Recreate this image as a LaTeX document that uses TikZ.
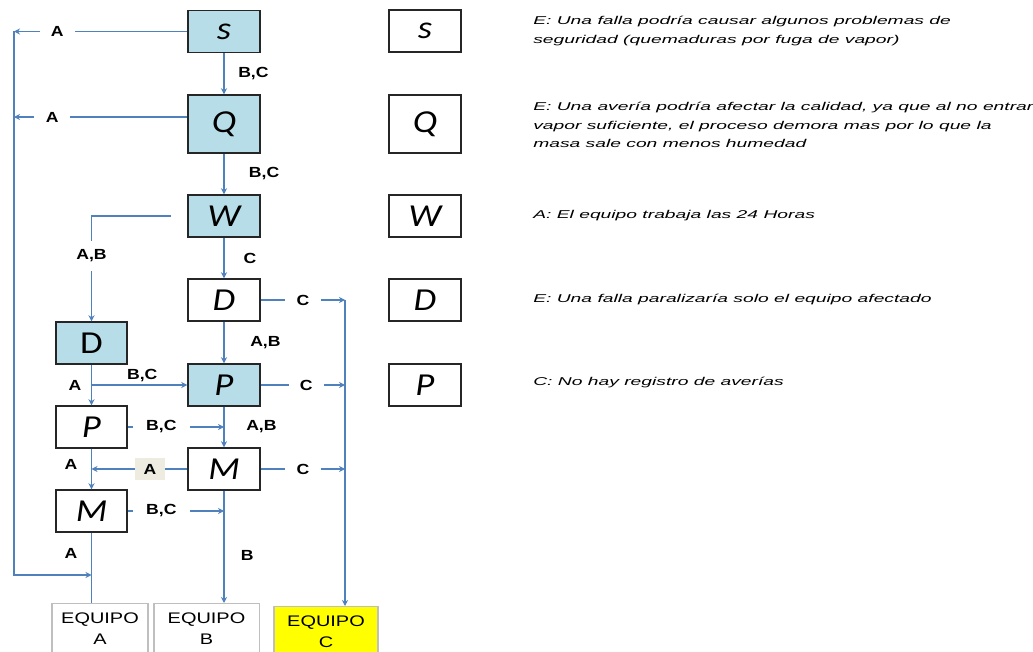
\documentclass[tikz,border=0pt]{standalone}
\usepackage{fontspec}
\usepackage{xcolor}
\usetikzlibrary{arrows.meta,positioning,calc}
\setmainfont{Liberation Sans}
\newfontfamily\boxfont[FakeStretch=1.15]{Carlito}
\newfontfamily\tagfont[FakeStretch=1.2]{Liberation Sans}
\newfontfamily\notefont[FakeStretch=1.7]{Liberation Sans}
\newfontfamily\equipofont[FakeStretch=1.3]{Liberation Sans}
\definecolor{critblue}{RGB}{183,221,232}
\definecolor{linkblue}{RGB}{79,129,189}
\definecolor{framegray}{RGB}{191,191,191}
\definecolor{tagbeige}{RGB}{238,236,225}
\definecolor{classyellow}{RGB}{255,255,0}

\begin{document}
\begin{tikzpicture}[x=0.75pt, y=-0.75pt,
    crit/.style={draw=black!85, line width=1.1pt, minimum width=54pt, minimum height=31.5pt, inner sep=0pt, font=\boxfont\fontsize{24}{26}\selectfont\itshape},
    hit/.style={crit, fill=critblue},
    equipo/.style={draw=framegray, line width=1pt, align=center, anchor=north, inner ysep=7pt, font=\equipofont\fontsize{11.5}{15.5}\selectfont},
    link/.style={draw=linkblue, line width=1.4pt},
    flow/.style={link, -{Stealth[length=4.5pt,width=4.5pt]}},
    tag/.style={font=\tagfont\fontsize{11}{13}\selectfont\bfseries, inner sep=1pt},
    gap/.style={tag, fill=white, inner xsep=8.5pt},
    vgap/.style={tag, fill=white, inner ysep=6.5pt},
    note/.style={anchor=west, align=left, inner sep=0pt, font=\notefont\fontsize{8.5}{14}\selectfont\itshape},
]
\useasboundingbox (0,0) rectangle (1033,652);

% criticality boxes (filled = path taken)
\node[hit] (sBox) at (224,31.5) {s};
\node[hit, minimum height=43.5pt] (qBox) at (224,124) {Q};
\node[hit] (wBox) at (224,216) {W};
\node[crit] (dBox) at (224,300) {D};
\node[hit, minimum width=53pt, font=\boxfont\fontsize{24}{26}\selectfont] (dLeft) at (91.5,343) {D};
\node[hit] (pBox) at (224,385) {P};
\node[crit, minimum width=53pt] (pLeft) at (91.5,427) {P};
\node[crit] (mBox) at (224,469) {M};
\node[crit, minimum width=53pt] (mLeft) at (91.5,511) {M};

% equipment classes
\node[equipo, minimum width=72pt] (eqA) at (100,603) {EQUIPO\\A};
\node[equipo, minimum width=79pt] (eqB) at (206.5,603) {EQUIPO\\B};
\node[equipo, minimum width=78pt, fill=classyellow] (eqC) at (326,606) {EQUIPO\\C};

% bus coordinates
\coordinate (busS) at (14,31.5);
\coordinate (busQ) at (14,117);
\coordinate (busEnd) at (14,575);
\coordinate (busC) at (345,300);

% class A return on the left
\draw[flow] (sBox.west) -- node[gap, pos=0.75] {A} (busS);
\draw[flow] (qBox.west |- busQ) -- node[gap, pos=0.78] {A} (busQ);
\draw[flow] (busS) -- (busEnd) -- (mLeft.south |- busEnd);

% main column
\draw[flow] (sBox) -- node[tag, right=9pt] {B,C} (qBox);
\draw[flow] (qBox) -- node[tag, right=17pt] {B,C} (wBox);
\draw[flow] (wBox) -- node[tag, right=13pt] {C} (dBox);
\draw[flow] (dBox) -- node[tag, right=18pt] {A,B} (pBox);
\draw[flow] (pBox) -- node[tag, right=15pt] {A,B} (mBox);
\draw[flow] (mBox) -- node[tag, right=11pt, pos=0.58] {B} (mBox.south |- eqB.north);

% left column
\draw[flow, shorten <=12.5pt] (wBox.west) -| node[vgap, pos=0.69] {A,B} (dLeft.north);
\draw[flow] (dLeft) -- node[tag, left=6pt] {A} (pLeft);
\draw[flow] (dLeft.south |- pBox.west) -- node[tag, above=1pt, pos=0.53] {B,C} (pBox.west);
\draw[flow] (pLeft) -- node[tag, left=9pt, pos=0.38] {A} (mLeft);
\draw[link] (mLeft) -- node[tag, left=9pt, pos=0.3] {A} (mLeft.south |- eqA.north);

% cross links into the main column
\draw[flow] (pLeft.east) -- node[gap, inner xsep=10pt, pos=0.35] {B,C} (pBox.south |- pLeft.east);
\draw[flow] (mLeft.east) -- node[gap, inner xsep=10pt, pos=0.35] {B,C} (mBox.south |- mLeft.east);
\draw[flow] (mBox.west) -- node[tag, fill=tagbeige, minimum width=23pt, minimum height=16pt, pos=0.39] {A} (mLeft.north |- mBox.west);

% class C bus on the right
\draw[flow] (dBox.east) -- node[gap, pos=0.5] {C} (busC);
\draw[flow] (pBox.east) -- node[gap, pos=0.54] {C} (busC |- pBox.east);
\draw[flow] (mBox.east) -- node[gap, pos=0.5] {C} (busC |- mBox.east);
\draw[flow] (busC) -- (busC |- eqC.north);

% legend
\node[crit] (legS) at (425,31) {s};
\node[crit, minimum height=43.5pt] (legQ) at (425,124) {Q};
\node[crit] (legW) at (425,216) {W};
\node[crit] (legD) at (425,300) {D};
\node[crit] (legP) at (425,385) {P};

\node[note] (noteS) at (533,31) {E: Una falla podría causar algunos problemas de\\seguridad (quemaduras por fuga de vapor)};
\node[note] (noteQ) at (533,125) {E: Una avería podría afectar la calidad, ya que al no entrar\\vapor suficiente, el proceso demora mas por lo que la\\masa sale con menos humedad};
\node[note] (noteW) at (533,216) {A: El equipo trabaja las 24 Horas};
\node[note] (noteD) at (533,300) {E: Una falla paralizaría solo el equipo afectado};
\node[note] (noteP) at (533,383) {C: No hay registro de averías};
\end{tikzpicture}
\end{document}
